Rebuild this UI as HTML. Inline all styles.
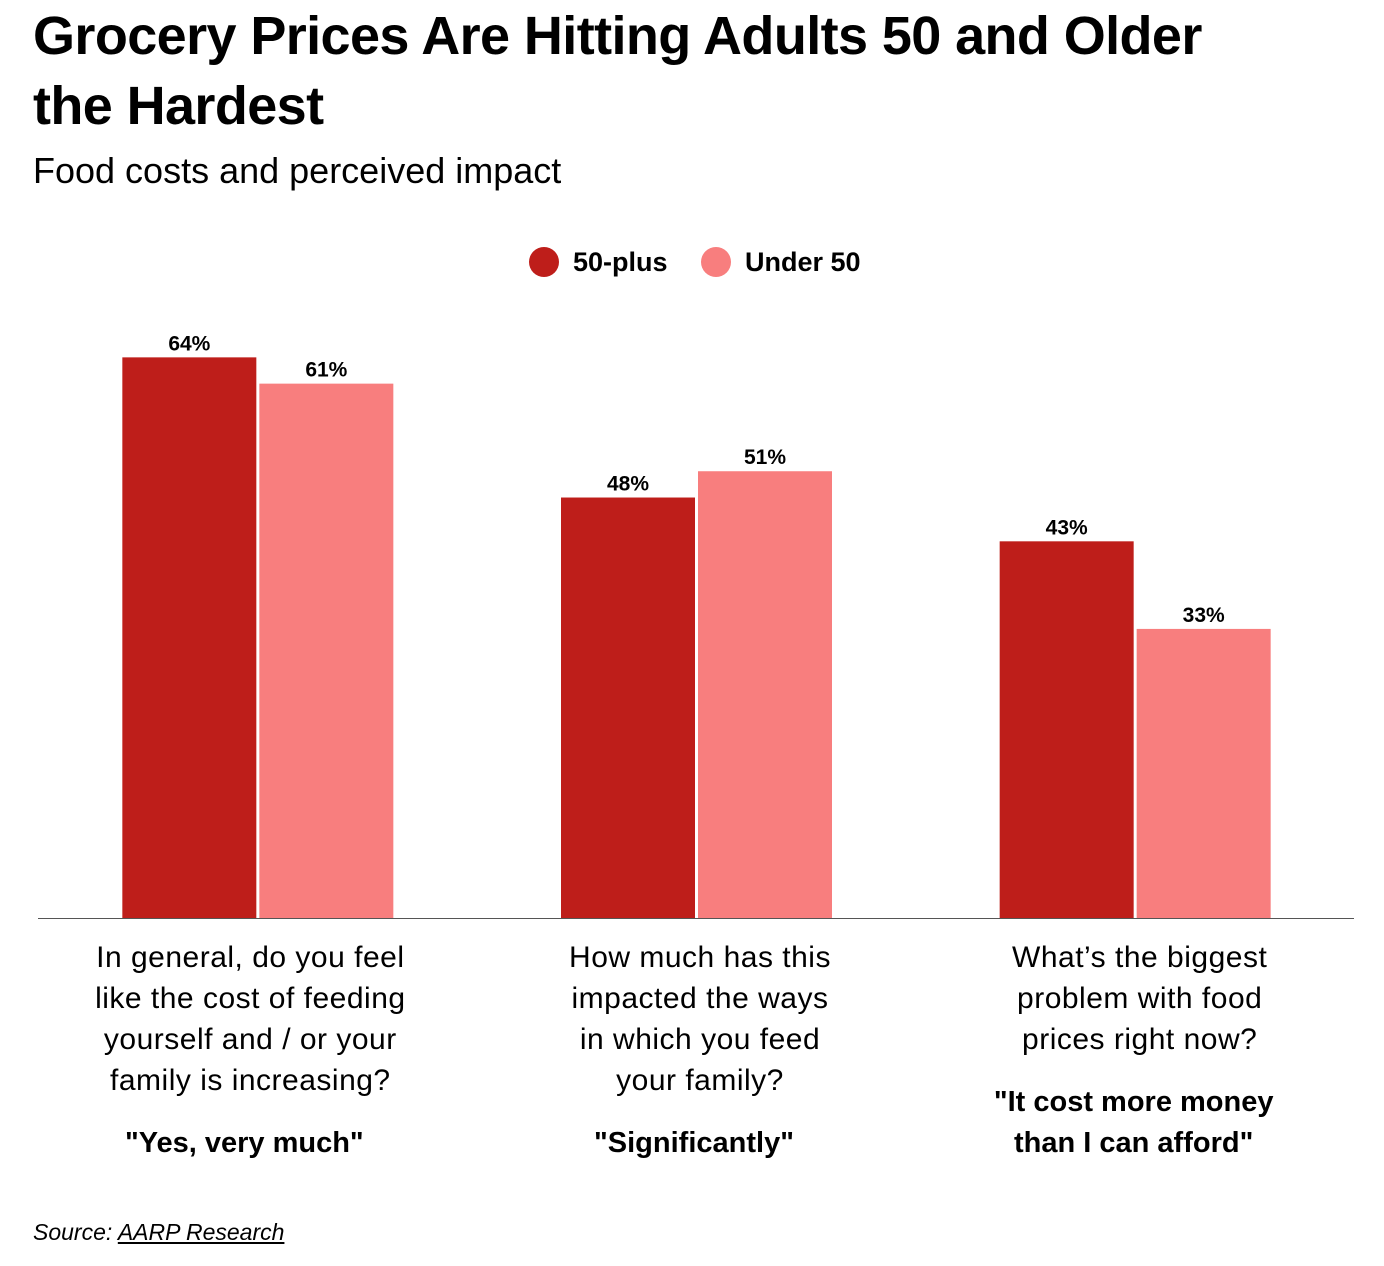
<!DOCTYPE html>
<html><head><meta charset="utf-8"><style>
body{margin:0;width:1384px;height:1266px;background:#fff;font-family:"Liberation Sans",sans-serif;position:relative;overflow:hidden;color:#000}
.t{position:absolute;left:33px;top:1px;font-size:54px;font-weight:bold;line-height:70px;letter-spacing:-0.6px;width:1340px;white-space:nowrap}
.s{position:absolute;left:33px;top:150px;font-size:36px}
.src{position:absolute;left:33px;top:1219px;font-size:23px;font-style:italic}
.src u{color:#000}
</style></head><body>
<div class="t">Grocery Prices Are Hitting Adults 50 and Older<br>the Hardest</div>
<div class="s">Food costs and perceived impact</div>
<svg id="c" width="1384" height="1266" style="position:absolute;left:0;top:0"></svg>
<div class="src">Source: <u>AARP Research</u></div>
<script>
const categories=[["In general, do you feel","like the cost of feeding","yourself and / or your","family is increasing?"],["How much has this","impacted the ways","in which you feed","your family?"],["What’s the biggest","problem with food","prices right now?"]];
const answers=[['"Yes, very much"'],['"Significantly"'],['"It cost more money','than I can afford"']];
const series50plus=[64,48,43];
const seriesUnder50=[61,51,33];
const seriesNames=["50-plus","Under 50"];
const colors=["#be1e1a","#f87e7e"];
const NS="http://www.w3.org/2000/svg";
const svg=document.getElementById('c');
const x0=38,x1=1354,base=918,pxPer=8.76;
const band=(x1-x0)/categories.length;
const y=v=>base-v*pxPer;
const bx=(i,s)=>x0+band*i+band/2-135+s*137;
function mk(t,a,txt){const e=document.createElementNS(NS,t);for(const k in a)e.setAttribute(k,a[k]);if(txt!=null)e.textContent=txt;svg.appendChild(e);return e;}
[series50plus,seriesUnder50].forEach((ser,s)=>{
 ser.forEach((v,i)=>{
  const r=mk('rect',{x:bx(i,s),y:y(v),width:134,height:base-y(v),fill:colors[s]});
  
  
  const t=mk('text',{x:bx(i,s)+67,y:y(v)-7,'text-anchor':'middle','font-size':21,'font-weight':'bold'},v+'%');
  
  
 });
});
const ax=mk('line',{x1:x0,x2:x1,y1:base+0.5,y2:base+0.5,stroke:'#555','stroke-width':1});


const offs=[-7,4,5];
categories.forEach((lines,i)=>{
 const cx=x0+band*i+band/2+offs[i];
 lines.forEach((l,j)=>{
  const t=mk('text',{x:cx,y:967+j*41,'text-anchor':'middle','font-size':30,'letter-spacing':0.5},l);
  
  
 });
 const ys=967+lines.length*41+21;
 answers[i].forEach((l,j)=>{
  const t=mk('text',{x:cx-6,y:ys+j*41,'text-anchor':'middle','font-size':29,'font-weight':'bold'},l);
  
  
 });
});
const lx=[544,716];
seriesNames.forEach((n,s)=>{
 const c=mk('circle',{cx:lx[s],cy:262,r:15,fill:colors[s]});
 
 
 const t=mk('text',{x:lx[s]+29,y:271,'font-size':27,'font-weight':'bold'},n);
 
 
});
</script>
</body></html>
